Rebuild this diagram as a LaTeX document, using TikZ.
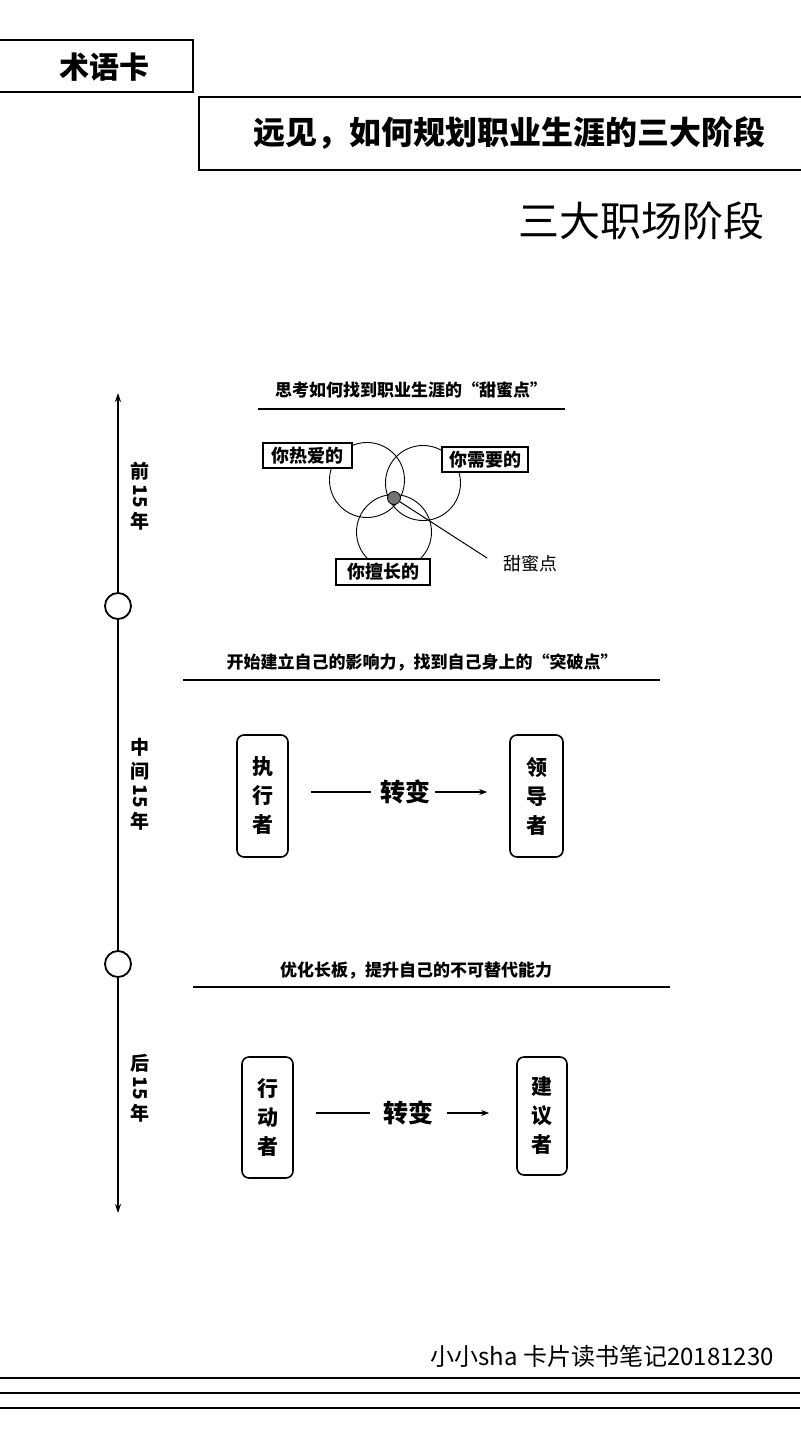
\documentclass[tikz,border=0pt]{standalone}
\usepackage{fontspec}
\setmainfont{Noto Sans CJK SC}
\usetikzlibrary{arrows.meta}
\newcommand\fsz[2]{\fontsize{#1}{#2}\selectfont}
\begin{document}
\begin{tikzpicture}[x=1pt,y=-1pt,
  frame/.style={draw=black,line width=2pt,inner sep=0pt},
  tline/.style={line width=1.8pt},
  ring/.style={circle,draw=black,line width=1.8pt,fill=white,minimum size=26pt,inner sep=0pt},
  vlab/.style={font=\fsz{19}{23}\bfseries,inner sep=0pt},
  vnum/.style={font=\fsz{19}{23}\bfseries,inner sep=0pt,rotate=-90},
  sub/.style={font=\fsz{17}{20}\bfseries,inner sep=0pt},
  rule/.style={line width=2pt},
  venn/.style={circle,draw=black,line width=0.9pt,minimum size=75pt,inner sep=0pt},
  lab/.style={draw=black,line width=2.5pt,fill=white,inner sep=0pt,font=\fsz{18}{20}\bfseries},
  stagebox/.style={draw=black,line width=1.6pt,rounded corners=7pt,align=center,inner sep=0pt,font=\fsz{21}{29}\bfseries},
  turn/.style={font=\fsz{25}{28}\bfseries,inner sep=0pt},
  conn/.style={line width=1.6pt},
  arr/.style={line width=1.6pt,-{Stealth[length=8pt,width=6pt]}}
]
\useasboundingbox (0,0) rectangle (800,1431);
\fill[white] (0,0) rectangle (800,1431);

% header
\node[frame,minimum width=200pt,minimum height=52pt] (hdr) at (93,66) {};
\node[font=\fsz{30}{34}\bfseries,inner sep=0pt] (hdrtxt) at (104,67) {术语卡};
\node[frame,minimum width=606pt,minimum height=73pt] (titlebox) at (502,133.5) {};
\node[font=\fsz{32}{36}\bfseries,inner sep=0pt] (title) at (509,133) {远见，如何规划职业生涯的三大阶段};
\node[anchor=east,font=\fsz{41}{46},inner sep=0pt] (stages) at (765,221) {三大职场阶段};

% timeline
\coordinate (ttop) at (118,393);
\coordinate (tbot) at (118,1213);
\node[ring] (c1) at (118,606) {};
\node[ring] (c2) at (118,964) {};
\draw[tline,-{Stealth[length=9pt,width=6pt]}] (c1) -- (ttop);
\draw[tline] (c1) -- (c2);
\draw[tline,-{Stealth[length=9pt,width=6pt]}] (c2) -- (tbot);
\node[vlab] (p1a) at (140,471) {前};
\node[vnum] (p1b) at (140,496) {15};
\node[vlab] (p1c) at (140,521) {年};
\node[vlab] (p2a) at (140,747) {中};
\node[vlab] (p2b) at (140,771) {间};
\node[vnum] (p2c) at (140,796) {15};
\node[vlab] (p2d) at (140,821) {年};
\node[vlab] (p3a) at (140,1063) {后};
\node[vnum] (p3b) at (140,1088) {15};
\node[vlab] (p3c) at (140,1113) {年};

% section 1
\node[sub] (s1) at (411,390) {思考如何找到职业生涯的“甜蜜点”};
\draw[rule] (258,409) -- (565,409);
\node[venn] (vA) at (367,480) {};
\node[venn] (vB) at (423,483) {};
\node[venn] (vC) at (394,532) {};
\node[circle,draw=black,line width=0.8pt,fill=black!55,minimum size=13pt,inner sep=0pt] (sweet) at (394,498) {};
\coordinate (sweetend) at (487,558);
\draw[line width=1pt] (sweet) -- (sweetend);
\node[font=\fsz{18}{20},inner sep=0pt] (sweetlab) at (530,564) {甜蜜点};
\node[lab,minimum width=89pt,minimum height=25pt] (l1) at (307.5,455.5) {你热爱的};
\node[lab,minimum width=86pt,minimum height=25pt] (l2) at (485,459.5) {你需要的};
\node[lab,minimum width=94pt,minimum height=26pt] (l3) at (383,572) {你擅长的};

% section 2
\node[sub] (s2) at (422,662) {开始建立自己的影响力，找到自己身上的“突破点”};
\draw[rule] (183,680) -- (660,680);
\node[stagebox,minimum width=51pt,minimum height=122pt] (exec) at (262.5,796) {执\\行\\者};
\node[stagebox,minimum width=53pt,minimum height=122pt] (lead) at (536.5,796) {领\\导\\者};
\node[turn] (t1) at (405,792) {转变};
\draw[conn] ([xshift=22pt]exec.east|-t1) -- ([xshift=-9pt]t1.west);
\draw[arr] ([xshift=5pt]t1.east) -- ([xshift=-22pt]lead.west|-t1);

% section 3
\node[sub] (s3) at (416,970) {优化长板，提升自己的不可替代能力};
\draw[rule] (193,987) -- (670,987);
\node[stagebox,minimum width=51pt,minimum height=121pt] (act) at (267.5,1117.5) {行\\动\\者};
\node[stagebox,minimum width=50pt,minimum height=118pt] (adv) at (542,1116) {建\\议\\者};
\node[turn] (t2) at (408,1113) {转变};
\draw[conn] ([xshift=22pt]act.east|-t2) -- ([xshift=-13pt]t2.west);
\draw[arr] ([xshift=14pt]t2.east) -- ([xshift=-27pt]adv.west|-t2);

% footer
\node[anchor=east,font=\fsz{24}{28},inner sep=0pt] (foot) at (774,1356) {小小sha 卡片读书笔记20181230};
\draw[rule] (0,1378) -- (800,1378);
\draw[rule] (0,1393) -- (800,1393);
\draw[rule] (0,1408) -- (800,1408);
\end{tikzpicture}
\end{document}
